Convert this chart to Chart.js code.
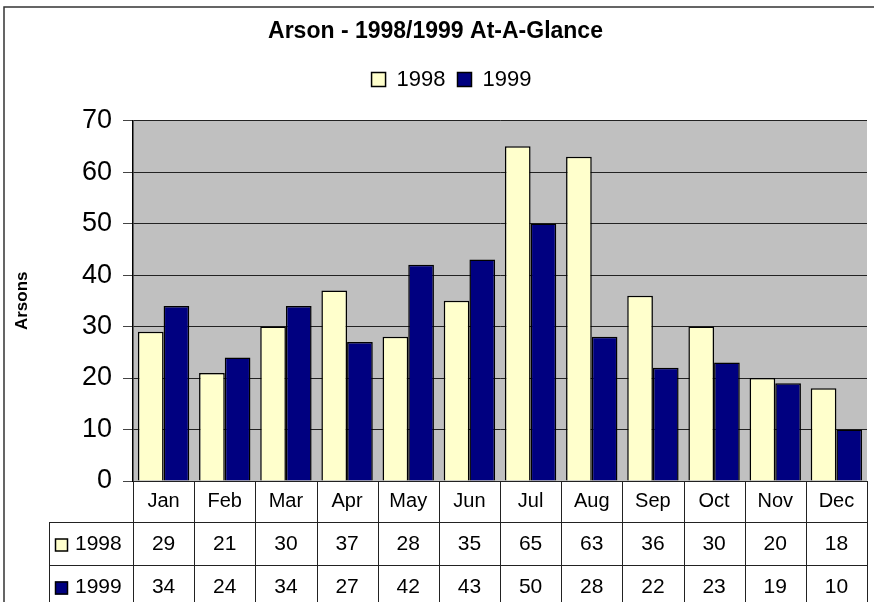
<!DOCTYPE html>
<html>
<head>
<meta charset="utf-8">
<script src="https://cdn.jsdelivr.net/npm/chart.js@4/dist/chart.umd.min.js"></script>
<style>
  html, body { margin: 0; padding: 0; background: #fff; }
  #wrap { width: 874px; height: 602px; }
</style>
</head>
<body>
<div id="wrap"><canvas id="arsonChart" width="874" height="602"></canvas></div>
<script>
// data
const months = ['Jan', 'Feb', 'Mar', 'Apr', 'May', 'Jun', 'Jul', 'Aug', 'Sep', 'Oct', 'Nov', 'Dec'];
const arsons1998 = [29, 21, 30, 37, 28, 35, 65, 63, 36, 30, 20, 18];
const arsons1999 = [34, 24, 34, 27, 42, 43, 50, 28, 22, 23, 19, 10];
const yTicks = [0, 10, 20, 30, 40, 50, 60, 70];

const FONT = 'Arial, "Liberation Sans", sans-serif';
const seriesNames = ['1998', '1999'];
const seriesColors = ['#FFFFCC', '#000080'];

// grey plot area + outer frame
const backdrop = {
  id: 'backdrop',
  beforeDraw(chart) {
    const { ctx, chartArea: a } = chart;
    ctx.save();
    ctx.fillStyle = '#fff';
    ctx.fillRect(0, 0, chart.width, chart.height);
    ctx.fillStyle = '#C0C0C0';
    ctx.fillRect(a.left, a.top, a.right - a.left, a.bottom - a.top);
    ctx.strokeStyle = '#333';
    ctx.lineWidth = 1.5;
    ctx.strokeRect(4, 7, chart.width + 20, chart.height + 20);
    ctx.restore();
  }
};

// give the legend extra room under it, and nudge it right a bit like the original
const legendSpace = {
  id: 'legendSpace',
  beforeInit(chart) {
    const fit = chart.legend.fit;
    chart.legend.fit = function () {
      fit.bind(chart.legend)();
      this.height += 20;
    };
  },
  afterLayout(chart) {
    chart.legend.left += 16;
    chart.legend.right += 16;
  }
};

// data table under the plot (Excel style)
const dataTable = {
  id: 'dataTable',
  afterDraw(chart) {
    const { ctx, chartArea: a } = chart;
    const x = chart.scales.x;
    const step = (a.right - a.left) / months.length;
    const rowTop = [a.bottom, a.bottom + 41, a.bottom + 84, a.bottom + 127];
    const tableLeft = 49;
    ctx.save();
    ctx.strokeStyle = '#222';
    ctx.lineWidth = 1;
    ctx.beginPath();
    // verticals between months
    for (let i = 0; i <= months.length; i++) {
      const px = Math.round(a.left + i * step) + 0.5;
      ctx.moveTo(px, a.bottom);
      ctx.lineTo(px, chart.height);
    }
    // row lines
    ctx.moveTo(tableLeft, Math.round(rowTop[1]) + 0.5);
    ctx.lineTo(a.right, Math.round(rowTop[1]) + 0.5);
    ctx.moveTo(tableLeft, Math.round(rowTop[2]) + 0.5);
    ctx.lineTo(a.right, Math.round(rowTop[2]) + 0.5);
    ctx.moveTo(tableLeft + 0.5, rowTop[1]);
    ctx.lineTo(tableLeft + 0.5, chart.height);
    ctx.stroke();

    ctx.fillStyle = '#000';
    ctx.textAlign = 'center';
    ctx.textBaseline = 'middle';
    ctx.font = '20px ' + FONT;
    months.forEach((m, i) => {
      ctx.fillText(m, x.getPixelForValue(i), (rowTop[0] + rowTop[1]) / 2);
    });
    ctx.font = '21px ' + FONT;
    [arsons1998, arsons1999].forEach((vals, r) => {
      const cy = (rowTop[r + 1] + rowTop[r + 2]) / 2 + 1;
      vals.forEach((v, i) => ctx.fillText(String(v), x.getPixelForValue(i), cy));
      // row key
      ctx.fillStyle = seriesColors[r];
      ctx.fillRect(55, cy - 6, 13, 13);
      ctx.strokeStyle = '#000';
      ctx.lineWidth = 1.5;
      ctx.strokeRect(55.5, cy - 5.5, 12, 12);
      ctx.fillStyle = '#000';
      ctx.textAlign = 'left';
      ctx.fillText(seriesNames[r], 75, cy);
      ctx.textAlign = 'center';
    });
    ctx.restore();
  }
};

const chartData = {
  labels: months,
  datasets: [
    {
      label: seriesNames[0],
      data: arsons1998,
      backgroundColor: seriesColors[0],
      borderColor: '#000',
      borderWidth: 1.5,
      borderSkipped: 'bottom'
    },
    {
      label: seriesNames[1],
      data: arsons1999,
      backgroundColor: seriesColors[1],
      borderColor: '#000',
      borderWidth: 1.5,
      borderSkipped: 'bottom'
    }
  ]
};

new Chart(document.getElementById('arsonChart'), {
  type: 'bar',
  data: chartData,
  plugins: [backdrop, legendSpace, dataTable],
  options: {
    responsive: false,
    animation: false,
    devicePixelRatio: 1,
    layout: { padding: { top: 7, left: 4, right: 7, bottom: 121 } },
    datasets: { bar: { categoryPercentage: 0.84, barPercentage: 1 } },
    plugins: {
      title: {
        display: true,
        text: 'Arson - 1998/1999 At-A-Glance',
        color: '#000',
        font: { family: FONT, size: 23, weight: 'bold' },
        padding: { top: 11, bottom: 11 }
      },
      legend: {
        display: true,
        labels: {
          color: '#000',
          font: { family: FONT, size: 22 },
          boxWidth: 14,
          boxHeight: 14,
          padding: 12
        }
      },
      tooltip: { enabled: false }
    },
    scales: {
      x: {
        display: false,
        offset: true
      },
      y: {
        min: 0,
        max: 70,
        afterBuildTicks(scale) {
          scale.ticks = yTicks.map(v => ({ value: v }));
        },
        afterFit(scale) {
          scale.width = 129;
        },
        ticks: {
          color: '#000',
          font: { family: FONT, size: 27 },
          padding: 11
        },
        grid: {
          color: '#222',
          lineWidth: 1,
          tickLength: 10,
          tickColor: '#444'
        },
        border: { display: true, color: '#000', width: 1.5 },
        title: {
          display: true,
          text: 'Arsons',
          color: '#000',
          font: { family: FONT, size: 17, weight: 'bold' },
          padding: { top: 8, bottom: 0 }
        }
      }
    }
  }
});
</script>
</body>
</html>
